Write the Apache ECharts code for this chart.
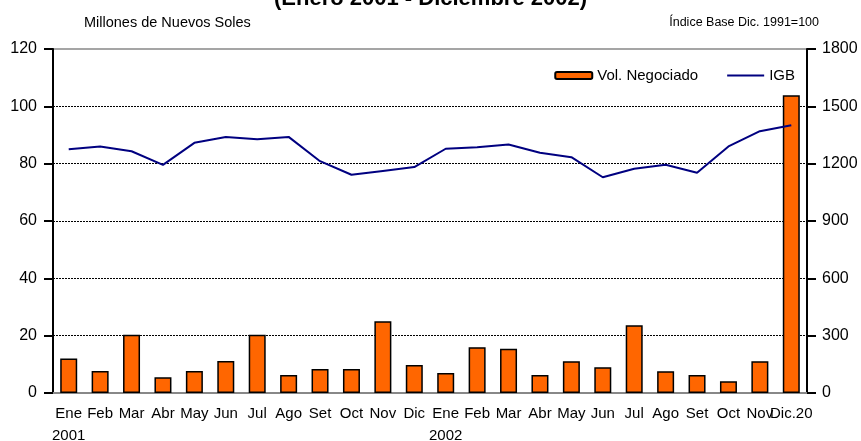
<!DOCTYPE html>
<html lang="es">
<head>
	<meta charset="UTF-8">
	<title>Volumen negociado e IGB</title>
	<script src="https://cdn.jsdelivr.net/npm/echarts@6/dist/echarts.min.js"></script>
	<style>
		html, body { margin: 0; padding: 0; background: #fff; }
		#chart { width: 861px; height: 441px; }
	</style>
</head>
<body>
<div id="chart"></div>
<script>
	// datos
	var meses = ['Ene', 'Feb', 'Mar', 'Abr', 'May', 'Jun', 'Jul', 'Ago', 'Set', 'Oct', 'Nov', 'Dic',
		'Ene', 'Feb', 'Mar', 'Abr', 'May', 'Jun', 'Jul', 'Ago', 'Set', 'Oct', 'Nov', 'Dic.20'];
	var anios = {0: '2001', 12: '2002'};
	var volNegociado = [12, 7.7, 20.3, 5.5, 7.7, 11.2, 20.3, 6.3, 8.4, 8.4, 25, 9.8,
		7, 16, 15.4, 6.3, 11.1, 9, 23.6, 7.6, 6.3, 4.1, 11.1, 103.9];
	var igb = [1276, 1290, 1265, 1194, 1309, 1340, 1328, 1340, 1213, 1142, 1162, 1182,
		1278, 1286, 1300, 1257, 1234, 1129, 1173, 1194, 1152, 1290, 1370, 1401];
	var ticksIzq = [0, 120, 20];
	var ticksDer = [0, 1800, 300];

	var font = 'Liberation Sans, Arial, sans-serif';
	var chart = echarts.init(document.getElementById('chart'));

	chart.setOption({
		animation: false,
		textStyle: {fontFamily: font},
		title: {
			text: '(Enero 2001 - Diciembre 2002)',
			left: 'center',
			top: -17,
			textStyle: {fontSize: 22, fontWeight: 'bold', color: '#000', fontFamily: font}
		},
		graphic: [
			{type: 'text', left: 84, top: 15, style: {text: 'Millones de Nuevos Soles', fill: '#000', font: '14.5px ' + font}},
			{type: 'text', right: 42, top: 16, style: {text: 'Índice Base Dic. 1991=100', fill: '#000', font: '12.5px ' + font}}
		],
		legend: {
			right: 61,
			top: 63,
			itemWidth: 37,
			itemHeight: 7,
			itemGap: 29,
			textStyle: {fontSize: 15, color: '#000', fontFamily: font},
			data: [
				{name: 'Vol. Negociado'},
				{name: 'IGB', icon: 'path://M0,0 L37,0 L37,2 L0,2 Z', itemStyle: {color: '#000080'}}
			]
		},
		grid: {
			left: 53, right: 54, top: 49, bottom: 48,
			outerBoundsMode: 'none',
			show: true, borderColor: '#888', borderWidth: 1.5
		},
		xAxis: {
			type: 'category',
			data: meses,
			axisLine: {lineStyle: {color: '#888', width: 2}},
			axisTick: {show: false},
			axisLabel: {
				interval: 0,
				margin: 10,
				fontSize: 15,
				color: '#000',
				lineHeight: 22,
				formatter: function (v, i) {
					return anios[i] ? v + '\n' + anios[i] : v;
				}
			}
		},
		yAxis: [
			{
				type: 'value',
				min: ticksIzq[0], max: ticksIzq[1], interval: ticksIzq[2],
				axisLine: {show: true, lineStyle: {color: '#000', width: 2}},
				axisTick: {show: true, length: 9, lineStyle: {color: '#000', width: 2}},
				axisLabel: {fontSize: 16, color: '#000', margin: 16},
				splitLine: {show: true, showMinLine: false, showMaxLine: false, lineStyle: {color: '#000', type: [2, 1], width: 1}}
			},
			{
				type: 'value',
				position: 'right',
				min: ticksDer[0], max: ticksDer[1], interval: ticksDer[2],
				axisLine: {show: true, lineStyle: {color: '#000', width: 2}},
				axisTick: {show: true, length: 9, lineStyle: {color: '#000', width: 2}},
				axisLabel: {fontSize: 16, color: '#000', margin: 15, formatter: function (v) { return String(v); }},
				splitLine: {show: false}
			}
		],
		series: [
			{
				name: 'Vol. Negociado',
				type: 'bar',
				barWidth: 17,
				itemStyle: {color: '#FF6600', borderColor: '#000', borderWidth: 1.5},
				data: volNegociado
			},
			{
				name: 'IGB',
				type: 'line',
				yAxisIndex: 1,
				symbol: 'none',
				lineStyle: {color: '#000080', width: 2},
				itemStyle: {color: '#000080'},
				data: igb
			}
		]
	});
</script>
</body>
</html>
